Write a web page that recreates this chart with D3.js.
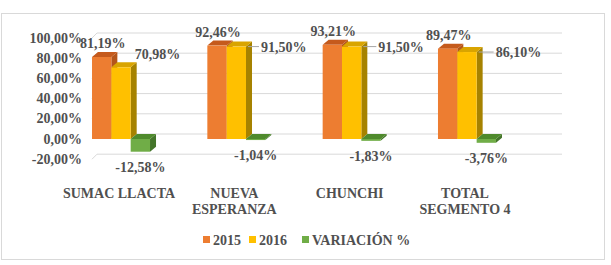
<!DOCTYPE html>
<html>
<head>
<meta charset="utf-8">
<script src="https://cdnjs.cloudflare.com/ajax/libs/d3/7.8.5/d3.min.js"></script>
<style>
  body { margin: 0; background: #fff; }
  svg text { font-family: "Liberation Serif", "Times New Roman", serif; font-weight: bold; fill: #505050; }
</style>
</head>
<body>
<svg width="611" height="265"></svg>
<script>
// data
const categories = [["SUMAC LLACTA"], ["NUEVA", "ESPERANZA"], ["CHUNCHI"], ["TOTAL", "SEGMENTO 4"]];
const series = ["2015", "2016", "VARIACIÓN %"];
const v2015 = [81.19, 92.46, 93.21, 89.47];
const v2016 = [70.98, 91.50, 91.50, 86.10];
const vVar = [-12.58, -1.04, -1.83, -3.76];
const yTicks = [-20, 0, 20, 40, 60, 80, 100];

const colors = {
  "2015": { front: "#ed7d31", top: "#c55a1c", side: "#b4551a" },
  "2016": { front: "#ffc000", top: "#d9a400", side: "#a68200" },
  "VARIACIÓN %": { front: "#70ad47", top: "#4f8a2c", side: "#44752a" }
};

const svg = d3.select("svg");
const fmt = v => (v < 0 ? "-" : "") + d3.format(".2f")(Math.abs(v)).replace(".", ",") + "%";

// chart frame
svg.append("rect").attr("x", 1.5).attr("y", 13.5).attr("width", 603).attr("height", 246)
  .attr("fill", "#fff").attr("stroke", "#d9d9d9");

const depthX = 6, depthY = -5;
const y = d3.scaleLinear().domain([-20, 100]).range([159.2, 38]);
const x0 = d3.scaleBand().domain(d3.range(categories.length)).range([34.7, 553.3]).padding(0.497);
const x1 = d3.scaleBand().domain(series).range([0, x0.bandwidth()]);

// back wall gridlines
const gridL = 97, gridR = 562;
const grid = svg.append("g");
yTicks.forEach(t => {
  const yb = y(t) + depthY;
  grid.append("line").attr("x1", gridL).attr("x2", gridR).attr("y1", yb).attr("y2", yb)
    .attr("stroke", "#d9d9d9").attr("stroke-width", 1);
  grid.append("line").attr("x1", gridL - 5).attr("x2", gridL).attr("y1", yb + 5).attr("y2", yb)
    .attr("stroke", "#d9d9d9").attr("stroke-width", 1);
});

// y axis labels
svg.append("g").selectAll("text").data(yTicks).join("text")
  .attr("x", 82).attr("y", d => y(d) + 4.5).attr("text-anchor", "end")
  .style("font-size", "14px").text(d => fmt(d));

// bars
const rows = categories.map((c, i) => [
  { s: "2015", v: v2015[i], i },
  { s: "2016", v: v2016[i], i },
  { s: "VARIACIÓN %", v: vVar[i], i }
]);

const bars = svg.append("g");
rows.forEach(row => row.forEach(d => {
  const xl = x0(d.i) + x1(d.s), w = x1.bandwidth();
  const yTop = y(Math.max(d.v, 0)), yBot = y(Math.min(d.v, 0));
  const c = colors[d.s];
  // side
  bars.append("path").attr("fill", c.side)
    .attr("d", `M${xl + w},${yTop}L${xl + w + depthX},${yTop + depthY}L${xl + w + depthX},${yBot + depthY}L${xl + w},${yBot}Z`);
  // top
  bars.append("path").attr("fill", c.top)
    .attr("d", `M${xl},${yTop}L${xl + depthX},${yTop + depthY}L${xl + w + depthX},${yTop + depthY}L${xl + w},${yTop}Z`);
  // front
  bars.append("rect").attr("x", xl).attr("y", yTop).attr("width", w).attr("height", yBot - yTop)
    .attr("fill", c.front);
}));

// data labels
const labels = svg.append("g").style("font-size", "14px");
rows.forEach(row => {
  const [a, b, g] = row;
  const w = x1.bandwidth();
  // 2015 above bar
  labels.append("text").attr("x", x0(a.i) + x1(a.s) + w / 2 + 1).attr("y", y(a.v) - 9)
    .attr("text-anchor", "middle").text(fmt(a.v));
  // 2016 to the right with leader
  const bx = x0(b.i) + x1(b.s) + w + depthX;
  const lx = bx + 7 + b.i * 2;
  const ly = y(b.v) + 5;
  if (b.i > 0) {
    labels.append("line").attr("x1", bx - 4).attr("y1", y(b.v)).attr("x2", lx - 2).attr("y2", y(b.v))
      .attr("stroke", "#a6a6a6").attr("stroke-width", 1);
  }
  labels.append("text").attr("x", b.i === 0 ? bx - 2 : lx).attr("y", b.i === 0 ? y(b.v) - 8 : ly)
    .text(fmt(b.v));
  // variation below
  labels.append("text").attr("x", x0(g.i) + x1(g.s) + w / 2).attr("y", y(g.v) + 20)
    .attr("text-anchor", "middle").text(fmt(g.v));
});

// category labels
const cat = svg.append("g").style("font-size", "14px");
categories.forEach((lines, i) => {
  const cx = x0(i) + x0.bandwidth() / 2 - 2;
  const t = cat.append("text").attr("text-anchor", "middle").attr("x", cx).attr("y", 198);
  lines.forEach((l, k) => t.append("tspan").attr("x", cx)
    .attr("dy", k === 0 ? 0 : 16).text(l));
});

// legend
const legend = svg.append("g").style("font-size", "14px");
const legendX = d3.scaleOrdinal().domain(series).range([203, 249, 302]);
series.forEach(s => {
  legend.append("rect").attr("x", legendX(s)).attr("y", 236).attr("width", 7).attr("height", 7)
    .attr("fill", colors[s].front);
  legend.append("text").attr("x", legendX(s) + 10).attr("y", 245).text(s);
});
</script>
</body>
</html>
